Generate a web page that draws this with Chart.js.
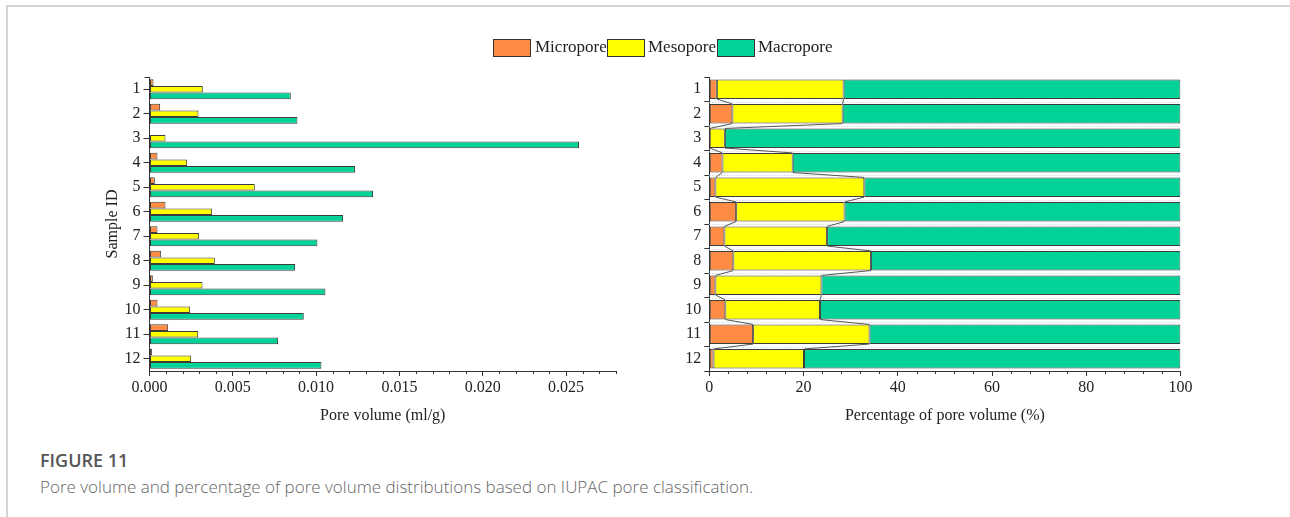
<!DOCTYPE html>
<html>
<head>
<meta charset="utf-8">
<script src="https://cdn.jsdelivr.net/npm/chart.js@4.4.1/dist/chart.umd.min.js"></script>
<style>
  html, body { margin:0; padding:0; background:#fff; }
  body { width:1290px; height:517px; position:relative; overflow:hidden; }
  #frame { position:absolute; left:6px; top:5px; width:1300px; height:600px; border-top:2px solid #d4d4d4; border-left:2px solid #d4d4d4; }
  #c1wrap { position:absolute; left:0; top:0; width:640px; height:440px; }
  #c2wrap { position:absolute; left:640px; top:0; width:650px; height:440px; }
  .lg-box { position:absolute; height:16px; border:1px solid #333; }
  .lg-txt { position:absolute; font-family:'Liberation Serif', serif; font-size:17px; color:#222; line-height:20px; white-space:nowrap; }
  #figt { position:absolute; left:40px; top:448px; font-family:'Open Sans', sans-serif; font-weight:600; font-size:18px; color:#555; line-height:24px; }
  #figc { position:absolute; left:40px; top:475px; font-family:'Open Sans', sans-serif; font-weight:300; font-size:17px; color:#666; line-height:24px; white-space:nowrap; }
</style>
</head>
<body>
<div id="frame"></div>
<div id="c1wrap"><canvas id="c1" width="640" height="440"></canvas></div>
<div id="c2wrap"><canvas id="c2" width="650" height="440"></canvas></div>
<div id="legend"></div>
<div id="figt">FIGURE 11</div>
<div id="figc">Pore volume and percentage of pore volume distributions based on IUPAC pore classification.</div>
<script>
// ---------- data ----------
const categories = ['1','2','3','4','5','6','7','8','9','10','11','12'];
const seriesNames = ['Micropore','Mesopore','Macropore'];
const seriesColors = ['#FF8C42','#FFFF00','#00D298'];

// pore volume (ml/g)
const microVol = [0.00024,0.00064,0.00003,0.00048,0.00032,0.00096,0.00048,0.00070,0.00020,0.00048,0.00112,0.00016];
const mesoVol  = [0.00320,0.00294,0.00096,0.00226,0.00632,0.00376,0.00298,0.00392,0.00318,0.00244,0.00292,0.00250];
const macroVol = [0.00848,0.00888,0.02578,0.01234,0.01342,0.01162,0.01008,0.00874,0.01056,0.00926,0.00772,0.01032];

// percentage of pore volume (%)
const microPct = [1.6,4.9,0.1,2.8,1.3,5.7,3.2,5.1,1.3,3.4,9.3,0.9];
const mesoPct  = [26.9,23.4,3.2,14.9,31.6,23.0,21.8,29.2,22.5,20.1,24.7,19.2];
const macroPct = [71.5,71.7,96.7,82.3,67.1,71.3,75.0,65.7,76.2,76.5,66.0,79.9];

const volTicks = [0,0.005,0.010,0.015,0.020,0.025];
const volMax = 0.028;
const pctTicks = [0,20,40,60,80,100];

// ---------- legend (HTML) ----------
const legendPos = [[493,535],[607,648],[717,758]];
const lg = document.getElementById('legend');
seriesNames.forEach((n,i)=>{
  const b = document.createElement('div');
  b.className='lg-box'; b.style.left=legendPos[i][0]+'px'; b.style.top='39px'; b.style.width='36px'; b.style.background=seriesColors[i];
  lg.appendChild(b);
  const t = document.createElement('div');
  t.className='lg-txt'; t.style.left=legendPos[i][1]+'px'; t.style.top='37px'; t.textContent=n;
  lg.appendChild(t);
});

// ---------- plugins ----------
const minorTicks = {
  id:'minorTicks',
  afterDraw(chart, args, o){
    const sx = chart.scales.x, ctx = chart.ctx;
    const y0 = chart.chartArea.bottom;
    ctx.save(); ctx.strokeStyle='#333'; ctx.lineWidth=1;
    for (let k=1; k*o.step <= sx.max + 1e-12; k++){
      if (k % o.every === 0) continue;
      const px = Math.round(sx.getPixelForValue(k*o.step)) + 0.5;
      ctx.beginPath(); ctx.moveTo(px, y0); ctx.lineTo(px, y0+3); ctx.stroke();
    }
    if (o.topCap){
      const x0 = chart.chartArea.left, t = Math.round(chart.chartArea.top)+0.5;
      ctx.beginPath(); ctx.moveTo(x0-5, t); ctx.lineTo(x0, t); ctx.stroke();
    }
    ctx.restore();
  }
};

const connectors = {
  id:'connectors',
  afterDatasetsDraw(chart){
    const ctx = chart.ctx, ca = chart.chartArea;
    const m0 = chart.getDatasetMeta(0).data, m1 = chart.getDatasetMeta(1).data;
    ctx.save();
    ctx.strokeStyle='#c8c8c8'; ctx.lineWidth=1; ctx.setLineDash([1,2]);
    for (let i=0;i<m0.length-1;i++){
      const yb = m0[i].y + m0[i].height/2, yt = m0[i+1].y - m0[i+1].height/2;
      const ym = Math.round((yb+yt)/2)+0.5;
      ctx.beginPath(); ctx.moveTo(ca.left, ym); ctx.lineTo(ca.right, ym); ctx.stroke();
    }
    ctx.setLineDash([]);
    ctx.strokeStyle='#555';
    [m0,m1].forEach(m=>{
      for (let i=0;i<m.length-1;i++){
        ctx.beginPath();
        ctx.moveTo(m[i].x, m[i].y + m[i].height/2);
        ctx.lineTo(m[i+1].x, m[i+1].y - m[i+1].height/2);
        ctx.stroke();
      }
    });
    ctx.restore();
  }
};

const tickFont = {family:"'Liberation Serif', serif", size:16};
const titleFont = {family:"'Liberation Serif', serif", size:16};
const axisColor = '#333';
const textColor = '#222';

function mkDatasets(arrs, extra){
  return arrs.map((d,i)=>Object.assign({
    label: seriesNames[i], data: d, backgroundColor: seriesColors[i],
    borderColor:'#3c3c3c', borderWidth:1, borderSkipped:false
  }, extra));
}

// ---------- left chart ----------
new Chart(document.getElementById('c1'), {
  type:'bar',
  data:{ labels: categories, datasets: mkDatasets([microVol, mesoVol, macroVol], {categoryPercentage:0.82, barPercentage:1.0}) },
  options:{
    indexAxis:'y', responsive:false, animation:false,
    layout:{ padding:{ left:0, top:77, right:24, bottom:0 } },
    plugins:{ legend:{display:false}, tooltip:{enabled:false}, minorTicks:{step:0.001, every:5, topCap:true} },
    scales:{
      x:{
        type:'linear', min:0, max:volMax,
        afterBuildTicks(s){ s.ticks = volTicks.map(v=>({value:v})); },
        afterFit(s){ s.height = 69; },
        grid:{ drawOnChartArea:false, drawTicks:true, tickLength:5, color:axisColor },
        border:{ color:axisColor, width:1 },
        ticks:{ font:tickFont, color:textColor, padding:2, maxRotation:0, callback:(v)=>Number(v).toFixed(3) },
        title:{ display:true, text:'Pore volume (ml/g)', font:titleFont, color:textColor, padding:{top:0,bottom:15} }
      },
      y:{
        type:'category',
        afterFit(s){ s.width = 149.5; },
        grid:{ offset:false, drawOnChartArea:false, drawTicks:true, tickLength:6, color:axisColor },
        border:{ color:axisColor, width:1 },
        ticks:{ font:tickFont, color:textColor, padding:3 },
        title:{ display:true, text:'Sample ID', font:titleFont, color:textColor, padding:{top:103,bottom:0} }
      }
    }
  },
  plugins:[minorTicks]
});

// ---------- right chart ----------
new Chart(document.getElementById('c2'), {
  type:'bar',
  data:{ labels: categories, datasets: mkDatasets([microPct, mesoPct, macroPct], {categoryPercentage:1.0, barPercentage:0.8}) },
  options:{
    indexAxis:'y', responsive:false, animation:false,
    layout:{ padding:{ left:0, top:77, right:109.5, bottom:0 } },
    plugins:{ legend:{display:false}, tooltip:{enabled:false}, minorTicks:{step:4, every:5, topCap:false} },
    scales:{
      x:{
        type:'linear', stacked:true, min:0, max:100,
        afterBuildTicks(s){ s.ticks = pctTicks.map(v=>({value:v})); },
        afterFit(s){ s.height = 69; },
        grid:{ drawOnChartArea:false, drawTicks:true, tickLength:5, color:axisColor },
        border:{ color:axisColor, width:1 },
        ticks:{ font:tickFont, color:textColor, padding:2, maxRotation:0 },
        title:{ display:true, text:'Percentage of pore volume (%)', font:titleFont, color:textColor, padding:{top:0,bottom:15} }
      },
      y:{
        type:'category', stacked:true,
        afterFit(s){ s.width = 69.3; },
        grid:{ offset:true, drawOnChartArea:false, drawTicks:true, tickLength:5, color:axisColor },
        border:{ color:axisColor, width:1 },
        ticks:{ font:tickFont, color:textColor, padding:3 }
      }
    }
  },
  plugins:[minorTicks, connectors]
});
</script>
</body>
</html>
